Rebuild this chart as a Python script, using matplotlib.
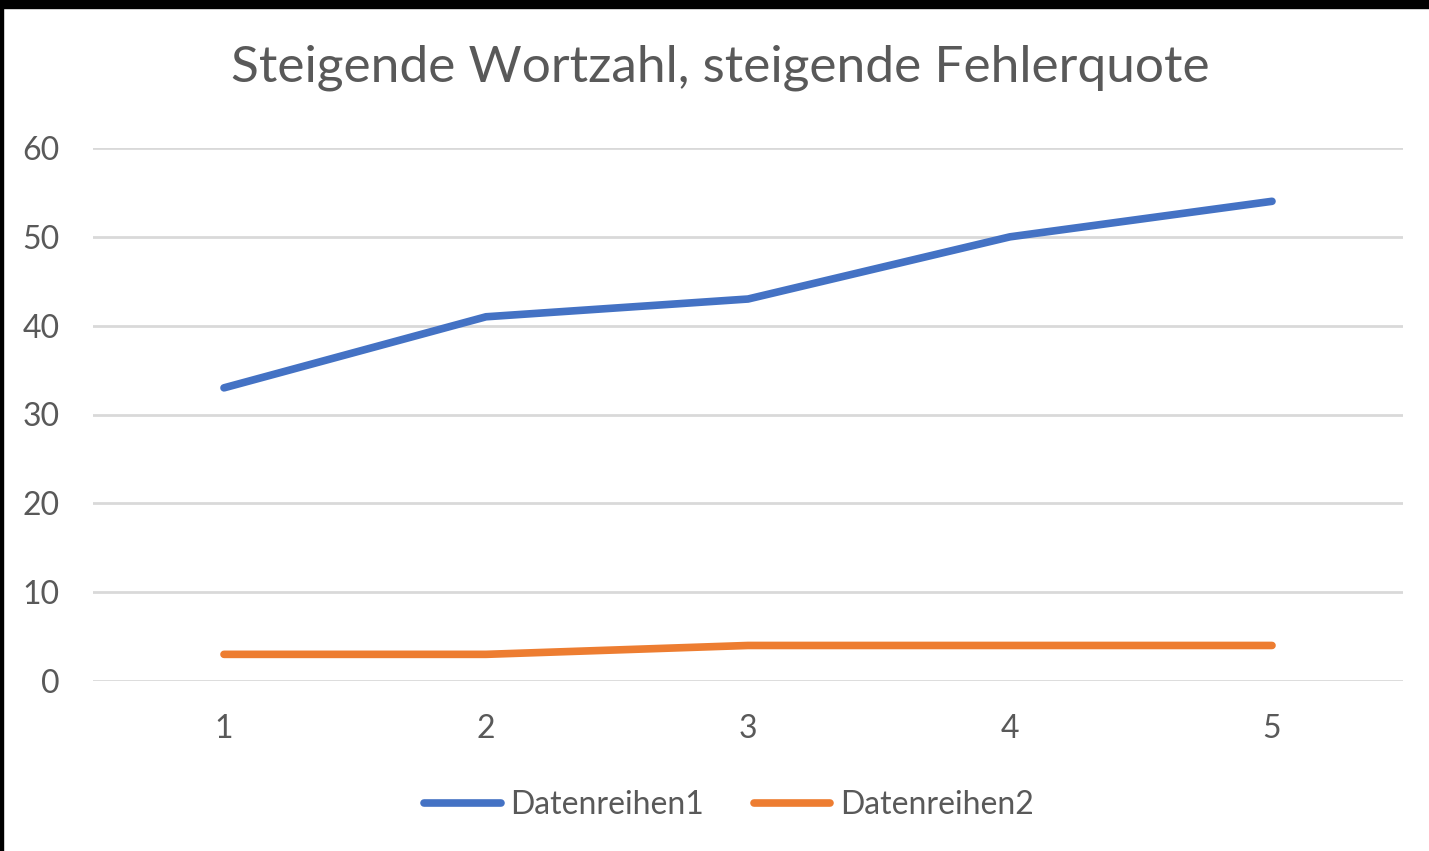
import matplotlib
matplotlib.use("Agg")
import matplotlib.pyplot as plt
from matplotlib.patches import Rectangle

categories = [1, 2, 3, 4, 5]
series1 = [33, 41, 43, 50, 54]
series2 = [3, 3, 4, 4, 4]
labels = ["Datenreihen1", "Datenreihen2"]
title = "Steigende Wortzahl, steigende Fehlerquote"
yticks = [0, 10, 20, 30, 40, 50, 60]

W, H = 1429, 851
fig = plt.figure(figsize=(W / 100, H / 100), dpi=100)
fig.patch.set_facecolor("white")
plt.rcParams['font.family'] = ['Lato', 'DejaVu Sans']

gray = "#595959"
ax = fig.add_axes([93 / W, 1 - 681 / H, (1403 - 93) / W, (681 - 148) / H])
ax.plot(categories, series1, color="#4472C4", lw=5.5, solid_capstyle="round", solid_joinstyle="round", label=labels[0], zorder=3)
ax.plot(categories, series2, color="#ED7D31", lw=5.5, solid_capstyle="round", solid_joinstyle="round", label=labels[1], zorder=3)
ax.set_xlim(0.5, 5.5)
ax.set_ylim(0, 60)
ax.set_yticks(yticks)
ax.set_xticks(categories)
ax.grid(axis="y", color="#D9D9D9", lw=2)
ax.set_axisbelow(True)
for s in ax.spines.values():
    s.set_visible(False)
ax.tick_params(length=0, labelsize=23, colors=gray, pad=0)
ax.tick_params(axis="y", pad=24)
ax.tick_params(axis="x", pad=24)
for lab in ax.get_yticklabels():
    lab.set_ha("right")
fig.text(720 / W, 1 - 68 / H, title, ha="center", va="center", fontsize=37, color=gray)

leg = fig.legend(loc="center", bbox_to_anchor=(729 / W, 1 - 805 / H), ncol=2, frameon=False,
                 fontsize=23, labelcolor=gray, handlelength=2.4, handletextpad=0.3, columnspacing=1.55)

# black border strips as in the reference
fig.add_artist(Rectangle((0, 1 - 8 / H), 1, 8 / H, transform=fig.transFigure, color="black", zorder=10))
fig.add_artist(Rectangle((0, 0), 3 / W, 1, transform=fig.transFigure, color="black", zorder=10))

fig.savefig("out.png", dpi=100)
